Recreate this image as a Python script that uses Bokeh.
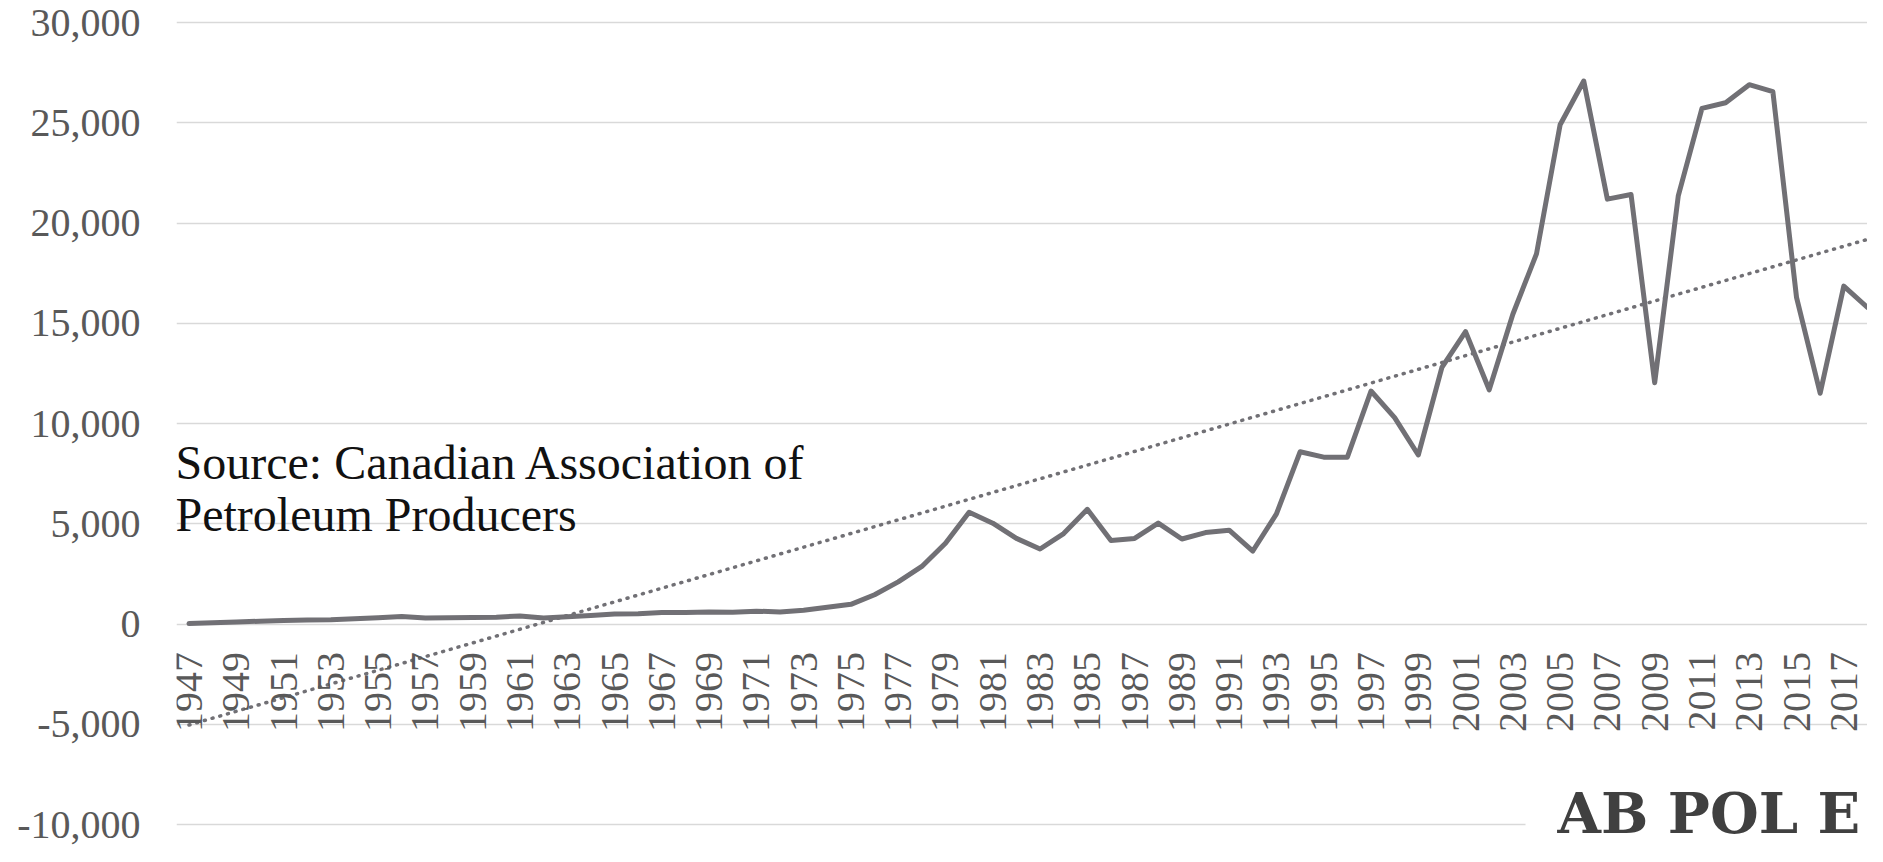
import numpy as np
from bokeh.plotting import figure
from bokeh.models import Range1d, FixedTicker, NumeralTickFormatter, Label
from bokeh.core.properties import value
from bokeh.embed import file_html
from bokeh.resources import INLINE

# ---------------- data ----------------
years = list(range(1947, 2019))
revenue = [
    20, 60, 100, 140, 170, 200, 210, 260, 310, 370,          # 1947-1956
    300, 310, 320, 340, 400, 300, 360, 420, 500, 510,        # 1957-1966
    570, 570, 600, 590, 640, 600, 690, 840, 980, 1460,       # 1967-1976
    2100, 2870, 4030, 5570, 5030, 4270, 3740, 4510, 5720, 4160,  # 1977-1986
    4270, 5030, 4240, 4560, 4680, 3640, 5490, 8590, 8320, 8320,  # 1987-1996
    11620, 10290, 8430, 12800, 14580, 11680, 15450, 18460, 24900, 27080,  # 1997-2006
    21190, 21420, 12030, 21370, 25720, 26000, 26900, 26550, 16290, 11510,  # 2007-2016
    16850, 15790,                                             # 2017-2018
]
tick_years = list(range(1947, 2018, 2))
tick_labels = [str(y) for y in tick_years]
y_ticks = list(range(-10000, 30001, 5000))
source_lines = ["Source: Canadian Association of", "Petroleum Producers"]
brand_text = "AB POL E"

# linear trend (least squares, like a spreadsheet trendline)
idx = np.arange(len(years))
coef = np.polyfit(idx, np.array(revenue, dtype=float), 1)
trend = list(np.polyval(coef, idx))

# ---------------- layout (pixels) ----------------
W, H = 1867, 846
FRAME_LEFT = 176
X0_PX, X_STEP = 188.5, 23.64          # pixel of first category, pixels per category
Y_TOP_PX, Y_BOT_PX = 22.0, 824.0      # pixel rows of the 30,000 and -10,000 gridlines
PX_PER_UNIT = (Y_BOT_PX - Y_TOP_PX) / 40000.0
ZERO_PX = Y_TOP_PX + 30000 * PX_PER_UNIT


def yr(px):
    return 1947 + (px - X0_PX) / X_STEP


def val(py):
    return (ZERO_PX - py) / PX_PER_UNIT


GREY_LINE = "#717075"
GREY_TEXT = "#595959"
GRID = "#d9d9d9"
SERIF = "Liberation Serif"

p = figure(
    width=W, height=H,
    x_range=Range1d(yr(FRAME_LEFT), yr(W)),
    y_range=Range1d(val(H), val(0)),
    output_backend="svg", toolbar_location=None,
    x_axis_location=None, y_axis_location="left",
    min_border_left=FRAME_LEFT, min_border_right=0,
    min_border_top=0, min_border_bottom=0,
    outline_line_color=None,
    background_fill_color="white", border_fill_color="white",
)

# y axis
ax = p.yaxis[0]
ax.ticker = FixedTicker(ticks=y_ticks)
ax.formatter = NumeralTickFormatter(format="0,0")
ax.major_label_text_font = SERIF
ax.major_label_text_font_size = "40px"
ax.major_label_text_color = GREY_TEXT
ax.axis_line_color = None
ax.major_tick_line_color = None
ax.minor_tick_line_color = None
ax.major_tick_out = 0
ax.major_tick_in = 0
ax.major_label_standoff = 36

# grid (the lowest gridline stops short of the brand mark)
p.xgrid.grid_line_color = None
p.ygrid.ticker = FixedTicker(ticks=y_ticks[1:])
p.ygrid.grid_line_color = GRID
p.ygrid.grid_line_width = 1.5
p.segment(x0=[yr(FRAME_LEFT)], x1=[yr(1525)], y0=[y_ticks[0]], y1=[y_ticks[0]],
          line_color=GRID, line_width=1.5, level="underlay")

# series
p.line(years, revenue, line_color=GREY_LINE, line_width=5,
       line_join="round", line_cap="round")
p.line(years, trend, line_color=GREY_LINE, line_width=3.5,
       line_dash="1 7", line_cap="round")

# category labels under the zero line
label_y = val(ZERO_PX + 28)
p.text(x=tick_years, y=[label_y] * len(tick_years), text=tick_labels,
       angle=np.pi / 2, text_align="right", text_baseline="middle",
       text_font=value(SERIF), text_font_size="40px", text_color=GREY_TEXT)

# source note
ten_k_px = ZERO_PX - 10000 * PX_PER_UNIT
p.add_layout(Label(x=yr(175), y=val(ten_k_px + 38.5), text=source_lines[0],
                   text_font=SERIF, text_font_size="48px", text_color="#111111",
                   text_baseline="alphabetic"))
p.add_layout(Label(x=yr(175), y=val(ten_k_px + 90.5), text=source_lines[1],
                   text_font=SERIF, text_font_size="48px", text_color="#111111",
                   text_baseline="alphabetic"))

# brand mark
p.text(x=[yr(1557)], y=[val(845)], text=[brand_text],
       text_font=value("DejaVu Serif"), text_font_style="bold",
       text_font_size="56px", text_color="#404040",
       text_align="left", text_baseline="bottom")

open("out.html", "w").write(file_html(p, INLINE))
